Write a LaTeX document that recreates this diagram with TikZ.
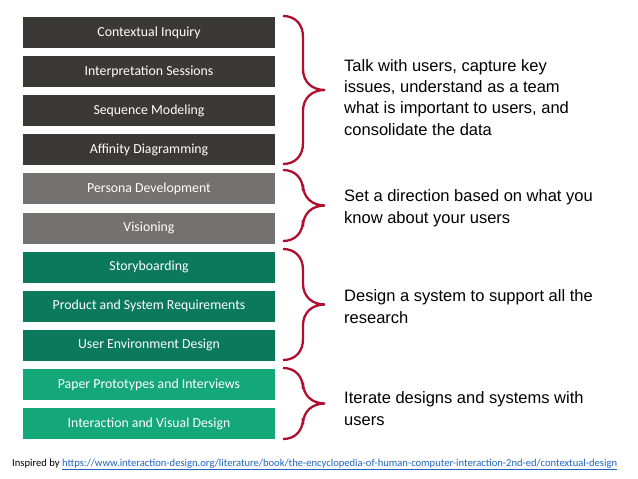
\documentclass[tikz,border=0pt]{standalone}
\usepackage{fontspec}
\setmainfont{Liberation Sans}
\newfontfamily\boxfont{Carlito}
\begin{document}
\definecolor{cdark}{HTML}{3B3838}
\definecolor{cgray}{HTML}{767171}
\definecolor{cgreen}{HTML}{0B7A5C}
\definecolor{clight}{HTML}{14A878}
\definecolor{cbrace}{HTML}{B0102F}
\definecolor{clink}{HTML}{1F63C0}
\begin{tikzpicture}[x=1pt,y=-1pt,
  stage/.style={minimum width=252pt,minimum height=31pt,inner sep=0pt,
    text=white,font=\boxfont\fontsize{13.8}{15}\selectfont},
  note/.style={anchor=base west,align=left,inner sep=0pt,
    font=\fontsize{16.5}{21.2}\selectfont},
  bracestroke/.style={draw=cbrace,line width=2.3pt}]
\useasboundingbox (0,0) rectangle (638,479);

% activity boxes, top edge at 17 + 39.1 i
\foreach \name/\col/\txt [count=\i from 0] in {
  ci/cdark/Contextual Inquiry,
  is/cdark/Interpretation Sessions,
  sm/cdark/Sequence Modeling,
  ad/cdark/Affinity Diagramming,
  pd/cgray/Persona Development,
  vi/cgray/Visioning,
  sb/cgreen/Storyboarding,
  ps/cgreen/Product and System Requirements,
  ue/cgreen/User Environment Design,
  pp/clight/Paper Prototypes and Interviews,
  iv/clight/Interaction and Visual Design}
  \node[stage,fill=\col] (\name) at (149,{32.5+39.1*\i}) {\txt};

% right braces: top y, bottom y
\foreach \ya/\yb in {16/164, 170/241, 249/360, 368/439}{
  \pgfmathsetmacro{\ym}{(\ya+\yb)/2}
  \draw[bracestroke]
    (283,\ya) .. controls (295,\ya) and (303,\ya+8) .. (303,\ya+21)
    -- (303,\ym-21) .. controls (303,\ym-8) and (312,\ym) .. (325,\ym)
    .. controls (312,\ym) and (303,\ym+8) .. (303,\ym+21)
    -- (303,\yb-21) .. controls (303,\yb-8) and (295,\yb) .. (283,\yb);
}

% notes, placed by the baseline of their last line
\node[note] (t1) at (344,135) {Talk with users, capture key\\issues, understand as a team\\what is important to users, and\\consolidate the data};
\node[note] (t2) at (344,223) {Set a direction based on what you\\know about your users};
\node[note] (t3) at (344,323) {Design a system to support all the\\research};
\node[note] (t4) at (344,425) {Iterate designs and systems with\\users};

\node[anchor=base west,inner sep=0pt,font=\boxfont\fontsize{10.6}{12}\selectfont] (src) at (12,466)
  {Inspired by \textcolor{clink}{\underline{https://www.interaction-design.org/literature/book/the-encyclopedia-of-human-computer-interaction-2nd-ed/contextual-design}}};
\end{tikzpicture}
\end{document}
